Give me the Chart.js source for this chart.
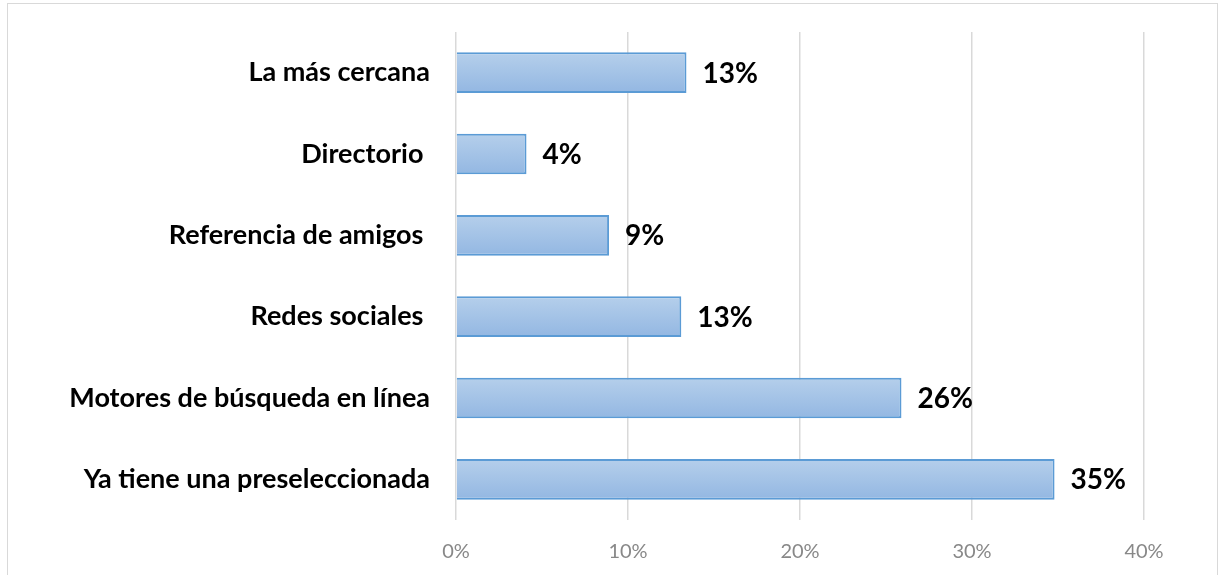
<!DOCTYPE html>
<html>
<head>
    <meta charset="utf-8">
    <title>Motivos de elección</title>
    <script src="https://cdn.jsdelivr.net/npm/chart.js"></script>
    <style>
        body { margin: 0; background: #fff; }
        #frame { position: absolute; left: 7px; top: 3px; width: 1209px; height: 600px; border: 1px solid #d9d9d9; }
        #chart { position: absolute; left: 0; top: 0; }
    </style>
</head>
<body>
    <div id="frame"></div>
    <canvas id="chart" width="1218" height="575"></canvas>
    <script>
        const categories = ['La más cercana', 'Directorio ', 'Referencia de amigos ', 'Redes sociales ', 'Motores de búsqueda en línea', 'Ya tiene una preseleccionada'];
        const values = [13.4, 4.1, 8.9, 13.1, 25.9, 34.8];
        const valueLabels = ['13%', '4%', '9%', '13%', '26%', '35%'];
        const xMin = 0, xMax = 40, xStep = 10;

        const barLabels = {
            id: 'barLabels',
            afterDatasetsDraw(chart) {
                const ctx = chart.ctx;
                ctx.save();
                ctx.font = 'bold 28px Lato';
                ctx.fillStyle = '#000';
                ctx.textAlign = 'left';
                ctx.textBaseline = 'middle';
                chart.getDatasetMeta(0).data.forEach((bar, i) => {
                    ctx.fillText(valueLabels[i], bar.x + 16, bar.y + 1);
                });
                ctx.restore();
            }
        };

        function barGradient(context) {
            const chart = context.chart;
            const y = chart.scales.y;
            if (!chart.chartArea || !y) return '#a5c3e7';
            const c = y.getPixelForValue(context.dataIndex);
            const h = y.height / categories.length / 4;
            const g = chart.ctx.createLinearGradient(0, c - h, 0, c + h);
            g.addColorStop(0, '#b5cfeb');
            g.addColorStop(1, '#93b7e2');
            return g;
        }

        new Chart(document.getElementById('chart'), {
            type: 'bar',
            data: {
                labels: categories,
                datasets: [{
                    data: values,
                    backgroundColor: barGradient,
                    borderColor: '#5b9bd5',
                    borderWidth: 2,
                    barPercentage: 0.5,
                    categoryPercentage: 1
                }]
            },
            options: {
                indexAxis: 'y',
                responsive: false,
                animation: false,
                layout: { padding: { top: 32, right: 74, left: 0, bottom: 0 } },
                plugins: { legend: { display: false }, tooltip: { enabled: false } },
                scales: {
                    x: {
                        min: xMin,
                        max: xMax,
                        ticks: {
                            stepSize: xStep,
                            callback: v => v + '%',
                            color: '#888888',
                            font: { family: 'Lato', size: 20 },
                            padding: 20
                        },
                        grid: { color: '#d9d9d9', lineWidth: 1.5, drawTicks: false },
                        border: { display: false },
                        afterFit: scale => { scale.height = 55; }
                    },
                    y: {
                        ticks: {
                            color: '#000',
                            font: { family: 'Lato', size: 27, weight: 'bold' },
                            padding: 26
                        },
                        grid: { display: false, drawTicks: false },
                        border: { display: false },
                        afterFit: scale => {
                            scale.width = 456;
                            scale.paddingTop = 0;
                            scale.paddingBottom = 0;
                        }
                    }
                }
            },
            plugins: [barLabels]
        });
    </script>
</body>
</html>
